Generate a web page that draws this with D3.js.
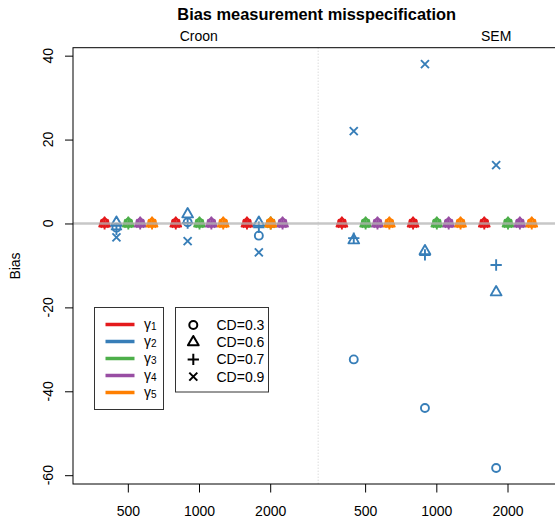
<!DOCTYPE html>
<html><head><meta charset="utf-8">
<script src="https://cdn.jsdelivr.net/npm/d3@7"></script>
<style>body{margin:0;background:#fff}svg{display:block;font-family:"Liberation Sans",Arial,sans-serif}</style>
</head><body><svg id="c" width="555" height="520"></svg>
<script>
// ---- data ----
const panels = ["Croon", "SEM"];
const sampleSizes = ["500", "1000", "2000"];
const gammaLabels = ["1", "2", "3", "4", "5"];
const cdLabels = ["CD=0.3", "CD=0.6", "CD=0.7", "CD=0.9"];
const cdShapes = ["circle", "triangle", "plus", "cross"];
const gammaColors = ["#E41A1C", "#377EB8", "#4DAF4A", "#984EA3", "#FF7F00"];
const yTicks = [40, 20, 0, -20, -40, -60];
// Bias values per gamma: [n=500: CD .3,.6,.7,.9 | n=1000: ... | n=2000: ...]
const croonGamma1 = [0.1, 0.0, -0.1, 0.0,   0.1, 0.0, -0.1, 0.0,   0.1, 0.0, -0.1, 0.0];
const croonGamma2 = [-1.0, 0.2, -1.4, -3.3,  0.3, 2.2, 0.1, -4.2,  -2.9, 0.2, -0.9, -6.9];
const croonGamma3 = [0.1, 0.0, -0.1, 0.0,   0.1, 0.0, -0.1, 0.0,   0.1, 0.0, -0.1, 0.0];
const croonGamma4 = [0.1, 0.0, -0.1, 0.0,   0.1, 0.0, -0.1, 0.0,   0.1, 0.0, -0.1, 0.0];
const croonGamma5 = [0.1, 0.0, -0.1, 0.0,   0.1, 0.0, -0.1, 0.0,   0.1, 0.0, -0.1, 0.0];
const semGamma1 = [0.1, 0.0, -0.1, 0.0,   0.1, 0.0, -0.1, 0.0,   0.1, 0.0, -0.1, 0.0];
const semGamma2 = [-32.4, -4.0, -3.5, 22.0,  -44.0, -6.6, -7.5, 38.0,  -58.3, -16.4, -9.9, 13.9];
const semGamma3 = [0.1, 0.0, -0.1, 0.0,   0.1, 0.0, -0.1, 0.0,   0.1, 0.0, -0.1, 0.0];
const semGamma4 = [0.1, 0.0, -0.1, 0.0,   0.1, 0.0, -0.1, 0.0,   0.1, 0.0, -0.1, 0.0];
const semGamma5 = [0.1, 0.0, -0.1, 0.0,   0.1, 0.0, -0.1, 0.0,   0.1, 0.0, -0.1, 0.0];
// slot (order within a sample-size group) of each gamma
const defaultSlots = [-2, -1, 0, 1, 2];
const croon2000Slots = [-2, -1, 0, 1, 0];

const biasData = [
  [croonGamma1, croonGamma2, croonGamma3, croonGamma4, croonGamma5],
  [semGamma1, semGamma2, semGamma3, semGamma4, semGamma5]
];

// ---- layout ----
const L = 73, R = 611, T = 47.7, B = 484;
const svg = d3.select("#c");
const panelShift = [0, 10/3];
const x = d3.scaleLinear().domain([-0.777, 6.78]).range([L, R]);
const y = d3.scaleLinear().domain([-62.1, 41.9]).range([B, T]);
const slotW = 1/6;

// divider
svg.append("line").attr("x1", x(1 + 10/6)).attr("x2", x(1 + 10/6))
  .attr("y1", T).attr("y2", B).attr("stroke", "#cccccc").attr("stroke-width", 1)
  .attr("stroke-dasharray", "1,2");

function symbol(g, shape, cx, cy, color, lw) {
  const r = 4;
  if (shape === "circle") {
    g.append("circle").attr("cx", cx).attr("cy", cy).attr("r", r)
      .attr("fill", "none").attr("stroke", color).attr("stroke-width", lw);
  } else if (shape === "triangle") {
    const xc = r * 1.347, up = r * 1.555, dn = r * 0.778;
    g.append("path").attr("d", `M${cx},${cy - up}L${cx + xc},${cy + dn}L${cx - xc},${cy + dn}Z`)
      .attr("fill", "none").attr("stroke", color).attr("stroke-width", lw).attr("stroke-linejoin", "round");
  } else if (shape === "plus") {
    const h = r * 1.414;
    g.append("path").attr("d", `M${cx - h},${cy}H${cx + h}M${cx},${cy - h}V${cy + h}`)
      .attr("stroke", color).attr("stroke-width", lw);
  } else {
    g.append("path").attr("d", `M${cx - r},${cy - r}L${cx + r},${cy + r}M${cx - r},${cy + r}L${cx + r},${cy - r}`)
      .attr("stroke", color).attr("stroke-width", lw);
  }
}

// markers
const mk = svg.append("g");
panels.forEach((p, pi) => {
  sampleSizes.forEach((s, si) => {
    const slots = (pi === 0 && si === 2) ? croon2000Slots : defaultSlots;
    gammaLabels.forEach((gl, gi) => {
      cdShapes.forEach((sh, ci) => {
        const v = biasData[pi][gi][si * 4 + ci];
        const cx = x(si + panelShift[pi] + slots[gi] * slotW);
        symbol(mk, sh, cx, y(v), gammaColors[gi], 1.9);
      });
    });
  });
});

// zero line
svg.append("line").attr("x1", L).attr("x2", R).attr("y1", y(0)).attr("y2", y(0))
  .attr("stroke", "#b4b4b4").attr("stroke-opacity", 0.75).attr("stroke-width", 2.5);

// box
svg.append("rect").attr("x", L).attr("y", T).attr("width", R - L).attr("height", B - T)
  .attr("fill", "none").attr("stroke", "#000").attr("stroke-width", 1);

// y axis
const ya = svg.append("g").attr("transform", `translate(${L},0)`)
  .call(d3.axisLeft(y).tickValues(yTicks).tickSize(8).tickFormat(""));
ya.select(".domain").remove();
ya.selectAll("line").attr("stroke", "#000");
svg.append("g").selectAll("text").data(yTicks).join("text")
  .attr("transform", d => `translate(53,${y(d)}) rotate(-90)`)
  .attr("text-anchor", "middle").attr("font-size", 14).attr("fill", "#000")
  .text(d => d);

// x axis ticks
const xt = [];
panels.forEach((p, pi) => sampleSizes.forEach((s, si) => xt.push({ v: si + panelShift[pi], lab: s })));
const xa = svg.append("g");
xa.selectAll("line").data(xt).join("line")
  .attr("x1", d => x(d.v)).attr("x2", d => x(d.v)).attr("y1", B).attr("y2", B + 8.5).attr("stroke", "#000");
xa.selectAll("text").data(xt).join("text")
  .attr("x", d => x(d.v)).attr("y", 515.5).attr("text-anchor", "middle").attr("font-size", 14).text(d => d.lab);

// axis label
svg.append("text").attr("transform", "translate(20,266) rotate(-90)").attr("text-anchor", "middle")
  .attr("font-size", 14).text("Bias");

// title & strips
svg.append("text").attr("x", 316.7).attr("y", 19.5).attr("text-anchor", "middle")
  .attr("font-size", 16.4).attr("font-weight", "bold").text("Bias measurement misspecification");
svg.append("text").attr("x", 198.7).attr("y", 41).attr("text-anchor", "middle").attr("font-size", 14).text(panels[0]);
svg.append("text").attr("x", 496.2).attr("y", 41).attr("text-anchor", "middle").attr("font-size", 14).text(panels[1]);

// legend 1: gammas
const lg1 = svg.append("g");
lg1.append("rect").attr("x", 94.5).attr("y", 307.5).attr("width", 69).attr("height", 102)
  .attr("fill", "#fff").attr("stroke", "#333");
gammaLabels.forEach((g, i) => {
  const yy = 324.5 + i * 17;
  lg1.append("line").attr("x1", 105.5).attr("x2", 134.5).attr("y1", yy).attr("y2", yy)
    .attr("stroke", gammaColors[i]).attr("stroke-width", 3.5);
  const t = lg1.append("text").attr("x", 144).attr("y", yy + 4.5).attr("font-size", 14);
  t.append("tspan").text("\u03B3");
  t.append("tspan").attr("font-size", 10).attr("dy", 1).text(g);
});

// legend 2: CD
const lg2 = svg.append("g");
lg2.append("rect").attr("x", 175.5).attr("y", 307.5).attr("width", 93).attr("height", 84.5)
  .attr("fill", "#fff").attr("stroke", "#333");
cdLabels.forEach((c, i) => {
  const yy = 325 + i * 17.2;
  symbol(lg2, cdShapes[i], 193.3, yy, "#000", 2);
  lg2.append("text").attr("x", 216.5).attr("y", yy + 5).attr("font-size", 14).text(c);
});
</script></body></html>
